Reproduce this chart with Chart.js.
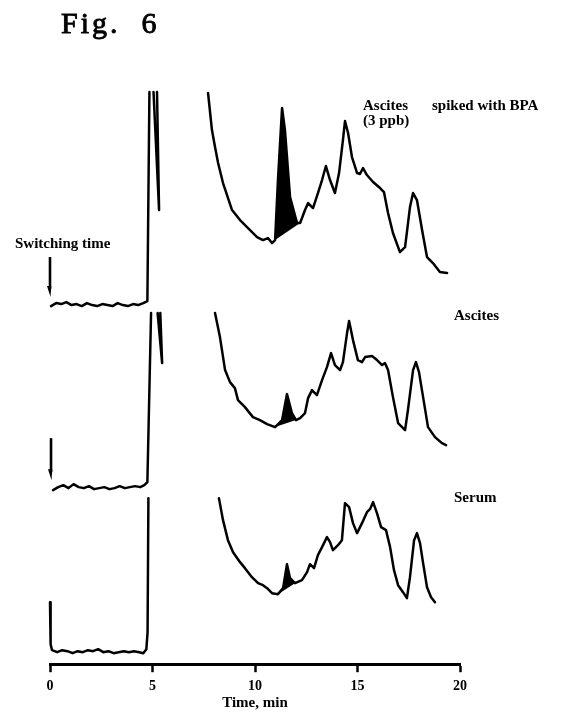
<!DOCTYPE html>
<html>
<head>
<meta charset="utf-8">
<script src="https://cdn.jsdelivr.net/npm/chart.js@4.4.1/dist/chart.umd.min.js"></script>
<style>
  html, body { margin: 0; padding: 0; background: #ffffff; }
  #wrap { width: 568px; height: 715px; }
</style>
</head>
<body>
<div id="wrap"><canvas id="c" width="568" height="715"></canvas></div>
<script>
// ---- Axis ticks (minutes) ----
const timeTicks = [0, 5, 10, 15, 20];
const axisTitle = 'Time, min';

// ---- Trace 1: Ascites spiked with BPA (3 ppb) ----
const trace1Time = [0.05,0.3,0.55,0.8,1.05,1.3,1.55,1.8,2.05,2.3,2.55,2.8,3.05,3.3,3.55,3.8,4.05,4.3,4.55,4.75,4.85,4.95,5.05,5.32,5.22,6.5,7.71,7.90,8.05,8.20,8.44,8.88,9.27,9.66,10.10,10.39,10.63,10.83,10.98,11.12,11.32,11.46,11.71,12.05,12.20,12.44,12.59,12.83,13.07,13.27,13.46,13.66,13.90,14.10,14.29,14.39,14.54,14.73,14.98,15.12,15.27,15.46,15.76,16.10,16.29,16.49,16.73,17.07,17.32,17.56,17.71,17.90,18.15,18.39,18.68,19.02,19.37];
const trace1Signal = [-1,2,1,3,0,1,-1,2,0,-1,1,0,-1,2,0,-1,1,0,2,4,213,null,213,95,213,null,212,175,158,142,122,95,85,77,68,65,67,62,65,125,197,175,108,82,82,95,102,97,112,125,139,125,112,132,165,184,172,148,132,131,137,130,123,117,113,92,72,53,58,98,112,105,75,48,42,33,32];

// ---- Trace 2: Ascites ----
const trace2Time = [0.15,0.4,0.65,0.9,1.15,1.4,1.65,1.9,2.15,2.4,2.65,2.9,3.15,3.4,3.65,3.9,4.15,4.4,4.6,4.75,4.93,5.0,5.25,5.47,5.38,6.7,8.05,8.29,8.54,8.78,9.02,9.17,9.51,9.90,10.24,10.59,10.98,11.32,11.56,11.80,12.00,12.20,12.44,12.59,12.78,13.02,13.27,13.51,13.71,13.90,14.15,14.29,14.49,14.59,14.78,15.02,15.22,15.37,15.71,15.95,16.20,16.34,16.49,16.73,16.98,17.32,17.46,17.71,17.85,18.00,18.20,18.44,18.78,19.12,19.32];
const trace2Signal = [-2,1,3,0,4,1,0,2,-1,0,1,-1,0,2,0,1,2,1,3,6,175,null,175,125,175,null,175,151,118,106,100,88,81,71,68,64,61,68,94,75,68,70,75,90,98,93,108,121,135,123,118,126,155,167,148,128,126,131,132,128,123,125,118,91,65,58,78,118,126,116,91,61,51,45,43];

// ---- Trace 3: Serum ----
const trace3Time = [0,0.03,0.1,0.35,0.6,0.85,1.1,1.35,1.6,1.85,2.1,2.35,2.6,2.85,3.1,3.35,3.6,3.85,4.1,4.35,4.55,4.7,4.76,4.8,6.5,8.24,8.44,8.68,8.93,9.27,9.51,9.85,10.15,10.39,10.59,10.83,11.12,11.37,11.56,11.71,11.95,12.29,12.54,12.68,12.88,13.07,13.27,13.51,13.66,13.80,14.05,14.24,14.39,14.59,14.78,14.98,15.22,15.46,15.61,15.76,15.95,16.15,16.39,16.59,16.78,16.98,17.22,17.41,17.56,17.76,17.90,18.05,18.20,18.39,18.59,18.78];
const trace3Signal = [50,8,2,0,2,1,-1,1,0,2,1,3,0,1,-1,0,1,0,1,0,-1,3,20,154,null,154,132,112,100,90,84,75,69,67,64,59,58,64,88,74,69,72,80,88,84,97,105,115,110,102,107,112,149,145,129,119,129,140,143,150,139,125,122,105,82,67,60,54,75,112,119,109,89,65,55,50];

// vertical offset of each chromatogram (detector units above the time axis)
const traceOffsets = [359, 176, 12];
// BPA peak integration limits (start, end) in minutes, per trace
const bpaStart = [10.98, 10.98, 11.12];
const bpaEnd   = [12.20, 12.00, 11.95];
// switching-time arrows: trace index, time, top, bottom (signal units relative to trace baseline)
const arrowTrace  = [0, 1];
const arrowTime   = [0.0, 0.05];
const arrowTop    = [48, 50];
const arrowBottom = [8, 8];

const traceLabels = ['Ascites spiked with BPA (3 ppb)', 'Ascites', 'Serum'];
const yFullScale = 572;

// ---- build datasets ----
const traceTimes = [trace1Time, trace2Time, trace3Time];
const traceSignals = [trace1Signal, trace2Signal, trace3Signal];

function toPoints(ts, vs, off) {
  const n = Math.min(ts.length, vs.length);
  const out = [];
  for (let i = 0; i < n; i++) out.push({x: ts[i], y: vs[i] === null ? null : vs[i] + off});
  return out;
}

const datasets = [];
for (let k = 0; k < 3; k++) {
  const pts = toPoints(traceTimes[k], traceSignals[k], traceOffsets[k]);
  datasets.push({
    label: traceLabels[k], data: pts, borderColor: '#000', borderWidth: 2.5,
    borderJoinStyle: 'round', borderCapStyle: 'round',
    pointRadius: 0, tension: 0, spanGaps: false, fill: false, clip: 6
  });
}
for (let k = 0; k < 3; k++) {
  const pts = toPoints(traceTimes[k], traceSignals[k], traceOffsets[k])
    .filter(p => p.y !== null && p.x >= bpaStart[k] - 1e-9 && p.x <= bpaEnd[k] + 1e-9);
  const chordIndex = datasets.length + 1;
  datasets.push({
    label: 'BPA ' + (k + 1), data: pts, borderWidth: 0, borderColor: 'rgba(0,0,0,0)',
    backgroundColor: '#000', pointRadius: 0, tension: 0, fill: chordIndex
  });
  datasets.push({
    label: 'chord ' + (k + 1), data: [pts[0], pts[pts.length - 1]], borderWidth: 0,
    borderColor: 'rgba(0,0,0,0)', pointRadius: 0, fill: false
  });
}

const annot = {
  id: 'annot',
  afterDraw(chart) {
    const ctx = chart.ctx;
    const xs = chart.scales.x, ys = chart.scales.y;
    ctx.save();
    ctx.fillStyle = '#000';
    ctx.strokeStyle = '#000';
    // switching-time arrows
    for (let i = 0; i < arrowTime.length; i++) {
      const off = traceOffsets[arrowTrace[i]];
      const x = xs.getPixelForValue(arrowTime[i]);
      const y0 = ys.getPixelForValue(arrowTop[i] + off);
      const y1 = ys.getPixelForValue(arrowBottom[i] + off);
      ctx.lineWidth = 2.6;
      ctx.beginPath(); ctx.moveTo(x, y0); ctx.lineTo(x, y1 - 8); ctx.stroke();
      ctx.beginPath();
      ctx.moveTo(x - 3, y1 - 11); ctx.lineTo(x + 1.3, y1 - 11); ctx.lineTo(x + 0.5, y1);
      ctx.closePath(); ctx.fill();
    }
    // texts
    ctx.textBaseline = 'alphabetic';
    ctx.textAlign = 'left';
    ctx.font = '30px "Liberation Serif"';
    try { ctx.letterSpacing = '3px'; } catch (e) {}
    ctx.lineWidth = 0.9;
    ctx.fillText('Fig.  6', 61, 33);
    ctx.strokeText('Fig.  6', 61, 33);
    try { ctx.letterSpacing = '0px'; } catch (e) {}
    ctx.font = 'bold 15px "Liberation Serif"';
    ctx.fillText('Switching time', 15, 248);
    ctx.fillText('Ascites', 363, 110);
    ctx.fillText('spiked with BPA', 432, 110);
    ctx.fillText('(3 ppb)', 363, 125);
    ctx.fillText('Ascites', 454, 320);
    ctx.fillText('Serum', 454, 502);
    // axis title, centred on the time axis
    ctx.textAlign = 'center';
    ctx.textBaseline = 'middle';
    ctx.fillText(axisTitle, (xs.left + xs.right) / 2, 703);
    ctx.restore();
  }
};

new Chart(document.getElementById('c'), {
  type: 'line',
  data: { datasets },
  options: {
    responsive: false,
    animation: false,
    devicePixelRatio: 1,
    layout: { padding: { left: 50, right: 108, top: 92, bottom: 14 } },
    plugins: { legend: { display: false }, tooltip: { enabled: false }, title: { display: false } },
    scales: {
      x: {
        type: 'linear', position: 'bottom', min: 0, max: 20,
        afterBuildTicks: (s) => { s.ticks = timeTicks.map(v => ({ value: v })); },
        ticks: { color: '#000', padding: 6, maxRotation: 0,
                 font: { family: 'Liberation Serif', weight: 'bold', size: 14 } },
        grid: { drawOnChartArea: false, drawTicks: true, tickLength: 8, tickWidth: 2.5, tickColor: '#000' },
        border: { display: true, color: '#000', width: 3 },
        title: { display: false }
      },
      y: { display: false, min: 0, max: yFullScale }
    }
  },
  plugins: [annot]
});
</script>
</body>
</html>
